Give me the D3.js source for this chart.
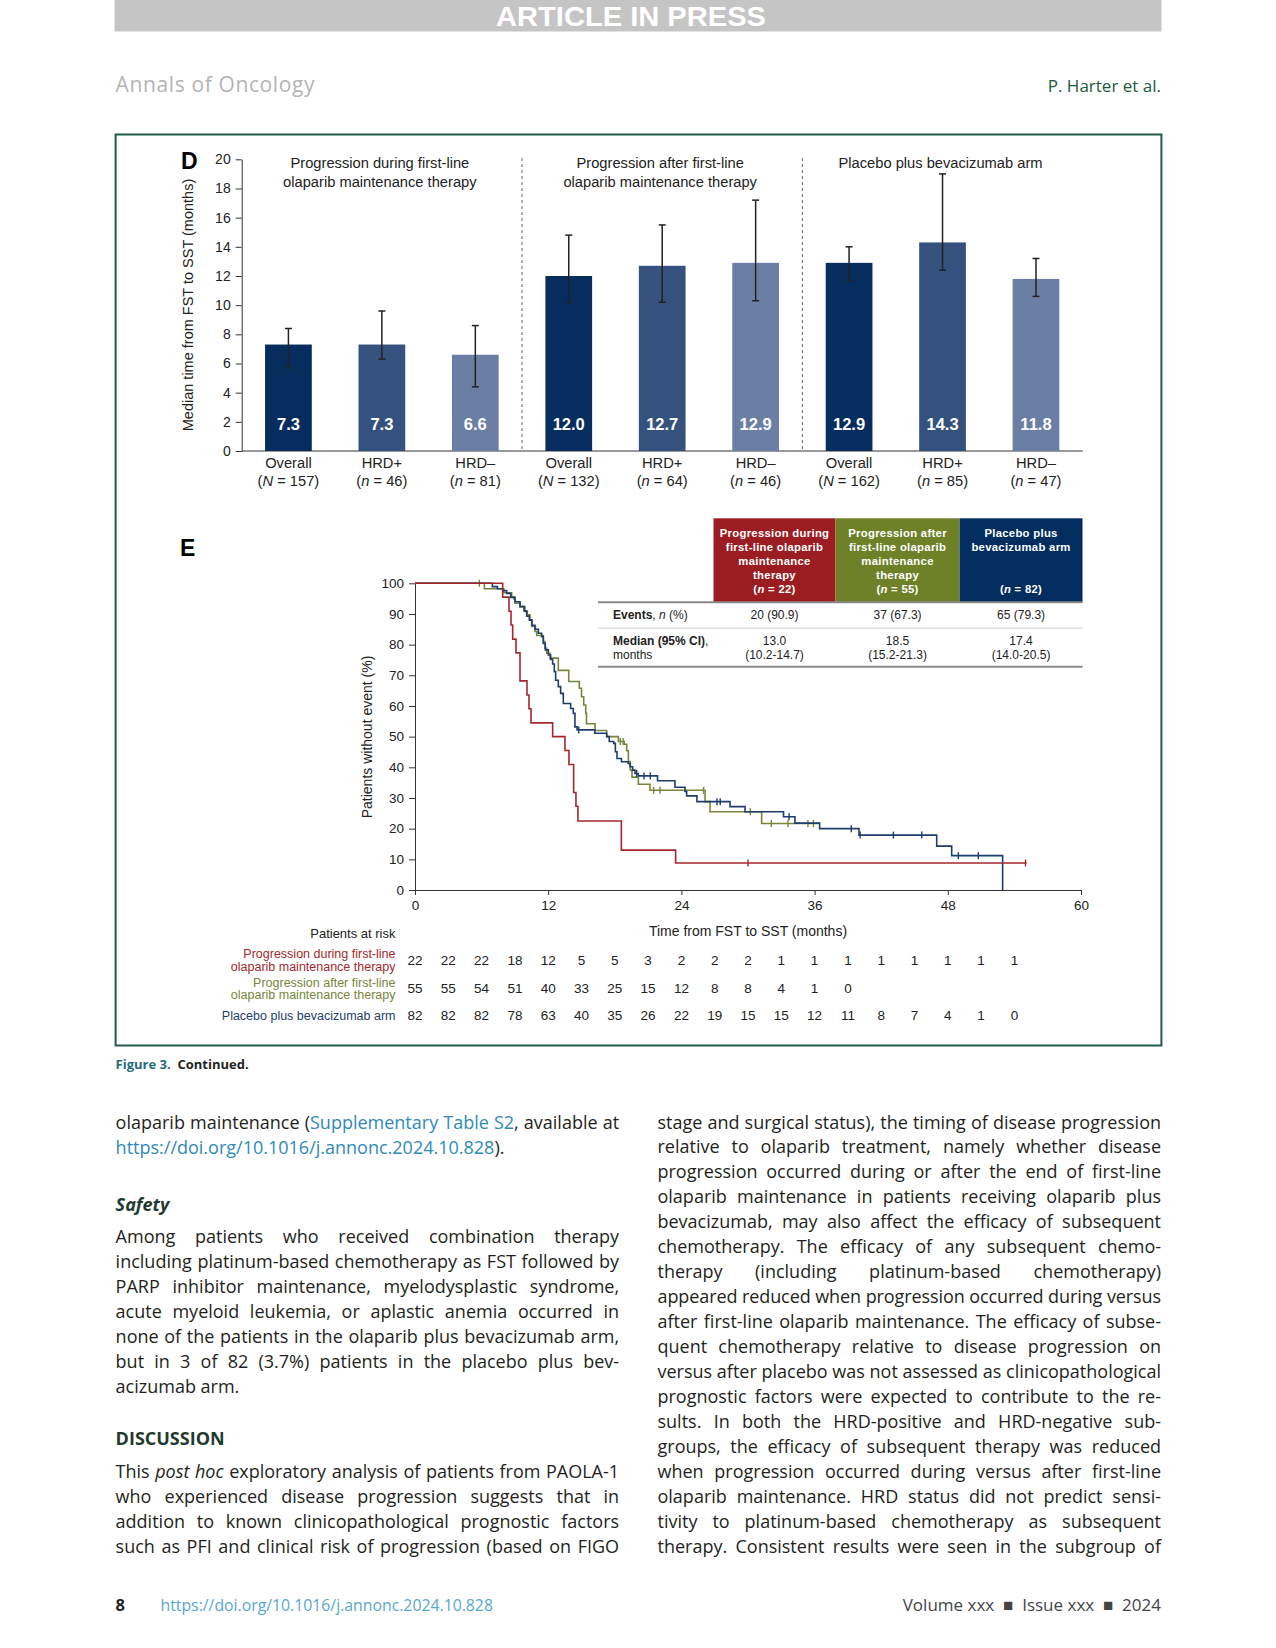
<!DOCTYPE html>
<html>
<head>
  <meta charset="utf-8" />
  <title>Time from FST to SST</title>
  <style>
    body { margin: 0; background: #fff; width: 1276px; height: 1648px; position: relative; overflow: hidden; }
    svg text { font-family: "Liberation Sans", Arial, sans-serif; }
    .ln { position: absolute; font-family: "Open Sans", sans-serif; font-size: 18px; line-height: 22px; color: #231f20; white-space: nowrap; }
    .j { text-align: justify; text-align-last: justify; }
    .lk { color: #2f8ab8; }
  </style>
</head>
<body>
  <svg id="page" width="1276" height="1648" style="position:absolute;left:0;top:0"></svg>
  <div id="txt"></div>

  <script src="https://cdn.jsdelivr.net/npm/d3@7"></script>
  <script>

    // ---- panel D data
    var barGroups = [['Progression during first-line', 'olaparib maintenance therapy'],
                     ['Progression after first-line', 'olaparib maintenance therapy'],
                     ['Placebo plus bevacizumab arm']]
    var barCats = ['Overall', 'HRD+', 'HRD\u2013', 'Overall', 'HRD+', 'HRD\u2013', 'Overall', 'HRD+', 'HRD\u2013']
    var barNLetter = ['N', 'n', 'n', 'N', 'n', 'n', 'N', 'n', 'n']
    var barN = [157, 46, 81, 132, 64, 46, 162, 85, 47]
    var barMedian = [7.3, 7.3, 6.6, 12.0, 12.7, 12.9, 12.9, 14.3, 11.8]
    var barLower = [5.7, 6.3, 4.4, 10.2, 10.2, 10.3, 11.7, 12.4, 10.6]
    var barUpper = [8.4, 9.6, 8.6, 14.8, 15.5, 17.2, 14.0, 19.0, 13.2]
    var barTicks = [0, 2, 4, 6, 8, 10, 12, 14, 16, 18, 20]
    var barColors = ['#062d5e', '#35527e', '#6b7fa4']

    // ---- panel E data (time in months, % without event)
    var kmDuring = [[0, 100], [7.9, 95.5], [8.47, 90.9], [8.65, 86.4], [8.8, 81.8], [9.1, 77.3], [9.46, 68.2],
      [10.09, 63.6], [10.27, 59.1], [10.45, 54.5], [12.4, 50.0], [13.51, 45.5], [13.87, 40.9], [14.29, 31.8],
      [14.5, 27.3], [14.68, 22.5], [18.59, 13.0], [23.48, 8.8], [55.1, 8.8]]
    var kmDuringCens = [30.0, 55.0]

    var kmAfter = [[0, 100], [6.25, 98.2], [8.0, 96.9], [8.71, 95.6], [8.92, 94.8], [9.01, 93.5], [9.46, 92.4],
      [9.91, 90.8], [10.12, 89.7], [10.36, 88.1], [10.51, 85.9], [10.81, 84.3], [10.96, 83.0], [11.56, 81.0],
      [11.71, 78.8], [11.86, 77.2], [12.16, 75.6], [12.91, 71.6], [13.85, 68.0], [14.8, 65.8], [15.0, 63.0],
      [15.2, 60.3], [15.38, 57.6], [15.45, 54.2], [16.22, 52.0], [17.27, 50.0], [18.32, 48.4], [18.85, 47.5],
      [19.07, 45.4], [19.22, 41.9], [19.4, 39.1], [19.55, 36.8], [20.12, 34.5], [21.17, 32.5], [26.13, 28.8],
      [26.58, 25.5], [31.23, 21.7], [36.33, 21.7]]
    var kmAfterCens = [5.8, 18.5, 18.75, 21.5, 22.07, 26.0, 30.2, 32.1, 33.6, 35.4, 35.9]

    var kmPlacebo = [[0, 100], [6.97, 98.9], [7.42, 98.2], [7.9, 97.6], [8.26, 96.7], [8.62, 95.4], [9.01, 94.0],
      [9.46, 92.4], [9.82, 91.0], [10.06, 89.3], [10.3, 88.0], [10.54, 86.3], [10.81, 85.0], [11.11, 83.7],
      [11.41, 82.6], [11.56, 80.4], [11.74, 78.3], [12.01, 76.6], [12.22, 75.2], [12.4, 73.7], [12.55, 71.2],
      [12.67, 68.4], [12.91, 66.3], [13.12, 64.1], [13.36, 60.8], [14.02, 59.2], [14.26, 57.6], [14.41, 53.2],
      [14.6, 52.2], [16.2, 51.1], [17.27, 50.0], [17.5, 48.4], [17.9, 47.8], [18.05, 45.1], [18.2, 42.9],
      [18.6, 41.8], [19.2, 41.3], [19.37, 40.2], [19.61, 39.1], [19.82, 38.0], [20.12, 37.2], [21.85, 35.6],
      [23.42, 33.5], [24.32, 32.1], [24.47, 30.7], [25.4, 28.8], [28.38, 27.2], [29.73, 25.5], [33.2, 23.9],
      [34.23, 21.8], [36.45, 20.0], [40.0, 17.9], [47.0, 14.3], [48.35, 11.2], [52.94, 0]]
    var kmPlaceboCens = [14.75, 19.97, 20.63, 21.2, 27.2, 27.5, 33.7, 39.3, 40.1, 43.1, 45.65, 48.95, 50.75]

    var kmTicksX = [0, 12, 24, 36, 48, 60]
    var kmTicksY = [0, 10, 20, 30, 40, 50, 60, 70, 80, 90, 100]
    var kmColors = ['#a3282d', '#76863a', '#1d3e6c']

    var tblHead = [['Progression during', 'first-line olaparib', 'maintenance', 'therapy', '22'],
                   ['Progression after', 'first-line olaparib', 'maintenance', 'therapy', '55'],
                   ['Placebo plus', 'bevacizumab arm', '', '', '82']]
    var tblHeadColors = ['#9b1d22', '#6e8129', '#022d5f']
    var tblEvents = ['20 (90.9)', '37 (67.3)', '65 (79.3)']
    var tblMedian = ['13.0', '18.5', '17.4']
    var tblCI = ['(10.2-14.7)', '(15.2-21.3)', '(14.0-20.5)']

    var riskLabels = [['Progression during first-line', 'olaparib maintenance therapy'],
                      ['Progression after first-line', 'olaparib maintenance therapy'],
                      ['Placebo plus bevacizumab arm']]
    var riskDuring = [22, 22, 22, 18, 12, 5, 5, 3, 2, 2, 2, 1, 1, 1, 1, 1, 1, 1, 1]
    var riskAfter = [55, 55, 54, 51, 40, 33, 25, 15, 12, 8, 8, 4, 1, 0]
    var riskPlacebo = [82, 82, 82, 78, 63, 40, 35, 26, 22, 19, 15, 15, 12, 11, 8, 7, 4, 1, 0]

    var svg = d3.select('#page')

    // ---- page header
    svg.append('rect').attr('x', 114.5).attr('y', 0).attr('width', 1047).attr('height', 31).attr('fill', '#c5c5c5')
    svg.append('line').attr('x1', 114.5).attr('x2', 1161.5).attr('y1', 31.5).attr('y2', 31.5).attr('stroke', '#e2e2e2')
    svg.append('text').attr('x', 496).attr('y', 26)
      .style('font-family', '"Liberation Sans Narrow", "Liberation Sans", sans-serif')
      .style('font-weight', 'bold').style('font-size', '28px').attr('fill', '#fff')
      .attr('textLength', 270).attr('lengthAdjust', 'spacingAndGlyphs').text('ARTICLE IN PRESS')
    svg.append('text').attr('x', 115.6).attr('y', 92).style('font-family', '"Open Sans", sans-serif')
      .style('font-size', '21px').attr('fill', '#b4b4b4').attr('textLength', 199).text('Annals of Oncology')
    svg.append('text').attr('x', 1161).attr('y', 92).attr('text-anchor', 'end').style('font-family', '"Open Sans", sans-serif')
      .style('font-size', '17px').attr('fill', '#1d5a3c').text('P. Harter et al.')

    // figure frame
    svg.append('rect').attr('x', 115.6).attr('y', 134.5).attr('width', 1045.8).attr('height', 911)
      .attr('fill', 'none').attr('stroke', '#1f5c42').attr('stroke-width', 2)

    drawBars()
    drawKM()
    drawText()

    function drawBars() {
      var g = svg.append('g')
      var x = d3.scaleBand().domain(d3.range(barCats.length)).range([241.7, 1082.7]).paddingInner(0.5).paddingOuter(0.25)
      var y = d3.scaleLinear().domain([0, 20]).range([451, 159.3])

      g.append('text').attr('x', 181).attr('y', 169).style('font-size', '23px').style('font-weight', 'bold').text('D')

      var ya = g.append('g').attr('transform', 'translate(241.7,0)')
        .call(d3.axisLeft(y).tickValues(barTicks).tickSize(6).tickPadding(5).tickSizeOuter(0))
      ya.selectAll('text').style('font-size', '14px').attr('fill', '#222')
      ya.selectAll('line,path').attr('stroke', '#333')

      g.append('line').attr('x1', 241.7).attr('x2', 1082.7).attr('y1', 451).attr('y2', 451).attr('stroke', '#333')

      g.append('text').attr('transform', 'translate(193,305) rotate(-90)').attr('text-anchor', 'middle')
        .style('font-size', '14.5px').attr('fill', '#222').text('Median time from FST to SST (months)')

      // group separators and titles
      ;[3, 6].forEach(function (k) {
        var sx = (x(k - 1) + x.bandwidth() + x(k)) / 2
        g.append('line').attr('x1', sx).attr('x2', sx).attr('y1', 158).attr('y2', 451)
          .attr('stroke', '#666').attr('stroke-dasharray', '3,3')
      })
      barGroups.forEach(function (lines, gi) {
        var cx = x(gi * 3 + 1) + x.bandwidth() / 2 - 2
        lines.forEach(function (t, li) {
          g.append('text').attr('x', cx).attr('y', 168 + li * 18.5).attr('text-anchor', 'middle')
            .style('font-size', '14.7px').attr('fill', '#222').text(t)
        })
      })

      g.selectAll('.bar').data(barMedian).enter().append('rect')
        .attr('x', function (d, i) { return x(i) })
        .attr('y', function (d) { return y(d) })
        .attr('width', x.bandwidth())
        .attr('height', function (d) { return y(0) - y(d) })
        .attr('fill', function (d, i) { return barColors[i % 3] })

      var eb = g.selectAll('.eb').data(barMedian).enter().append('g')
        .attr('transform', function (d, i) { return 'translate(' + (x(i) + x.bandwidth() / 2) + ',0)' })
        .attr('stroke', '#222').attr('stroke-width', 1.5)
      eb.append('line').attr('y1', function (d, i) { return y(barLower[i]) }).attr('y2', function (d, i) { return y(barUpper[i]) })
      eb.append('line').attr('x1', -3.5).attr('x2', 3.5).attr('y1', function (d, i) { return y(barLower[i]) }).attr('y2', function (d, i) { return y(barLower[i]) })
      eb.append('line').attr('x1', -3.5).attr('x2', 3.5).attr('y1', function (d, i) { return y(barUpper[i]) }).attr('y2', function (d, i) { return y(barUpper[i]) })

      g.selectAll('.val').data(barMedian).enter().append('text')
        .attr('x', function (d, i) { return x(i) + x.bandwidth() / 2 }).attr('y', 430)
        .attr('text-anchor', 'middle').style('font-size', '16.5px').style('font-weight', 'bold').attr('fill', '#fff')
        .text(function (d) { return d.toFixed(1) })

      barCats.forEach(function (c, i) {
        var cx = x(i) + x.bandwidth() / 2
        g.append('text').attr('x', cx).attr('y', 468).attr('text-anchor', 'middle').style('font-size', '14.7px').attr('fill', '#222').text(c)
        var t = g.append('text').attr('x', cx).attr('y', 485.5).attr('text-anchor', 'middle').style('font-size', '14.7px').attr('fill', '#222')
        t.append('tspan').text('(')
        t.append('tspan').style('font-style', 'italic').text(barNLetter[i])
        t.append('tspan').text(' = ' + barN[i] + ')')
      })
    }

    function survAt(curve, t) {
      var s = 100
      curve.forEach(function (p) { if (p[0] <= t) s = p[1] })
      return s
    }

    function drawKM() {
      var g = svg.append('g')
      var x = d3.scaleLinear().domain([0, 60]).range([415, 1081])
      var y = d3.scaleLinear().domain([0, 100]).range([890, 583.3])

      g.append('text').attr('x', 180).attr('y', 556).style('font-size', '23px').style('font-weight', 'bold').text('E')

      var xa = g.append('g').attr('transform', 'translate(0,890)')
        .call(d3.axisBottom(x).tickValues(kmTicksX).tickSize(5).tickPadding(5).tickSizeOuter(0))
      xa.selectAll('text').style('font-size', '13.5px').attr('fill', '#222')
      xa.selectAll('line,path').attr('stroke', '#333')
      var ya = g.append('g').attr('transform', 'translate(415,0)')
        .call(d3.axisLeft(y).tickValues(kmTicksY).tickSize(6).tickPadding(5).tickSizeOuter(0))
      ya.selectAll('text').style('font-size', '13.5px').attr('fill', '#222')
      ya.selectAll('line,path').attr('stroke', '#333')

      g.append('text').attr('x', 748).attr('y', 936).attr('text-anchor', 'middle').style('font-size', '14px').attr('fill', '#222')
        .text('Time from FST to SST (months)')
      g.append('text').attr('transform', 'translate(372,737) rotate(-90)').attr('text-anchor', 'middle')
        .style('font-size', '14px').attr('fill', '#222').text('Patients without event (%)')

      var line = d3.line().curve(d3.curveStepAfter).x(function (d) { return x(d[0]) }).y(function (d) { return y(d[1]) })
      var curves = [[kmAfter, kmAfterCens], [kmPlacebo, kmPlaceboCens], [kmDuring, kmDuringCens]]
      var cols = [kmColors[1], kmColors[2], kmColors[0]]
      curves.forEach(function (c, ci) {
        g.append('path').datum(c[0]).attr('d', line).attr('fill', 'none').attr('stroke', cols[ci]).attr('stroke-width', 1.6)
        g.selectAll('.cens' + ci).data(c[1]).enter().append('line')
          .attr('x1', function (d) { return x(d) }).attr('x2', function (d) { return x(d) })
          .attr('y1', function (d) { return y(survAt(c[0], d)) - 3.5 })
          .attr('y2', function (d) { return y(survAt(c[0], d)) + 3.5 })
          .attr('stroke', cols[ci]).attr('stroke-width', 1.4)
      })

      // summary table
      var colX = [713.5, 835.5, 959.6, 1082.5]
      tblHead.forEach(function (h, i) {
        g.append('rect').attr('x', colX[i]).attr('y', 518.3).attr('width', colX[i + 1] - colX[i]).attr('height', 84)
          .attr('fill', tblHeadColors[i])
        var cx = (colX[i] + colX[i + 1]) / 2
        h.slice(0, 4).forEach(function (t, li) {
          g.append('text').attr('x', cx).attr('y', 536.5 + li * 14.1).attr('text-anchor', 'middle')
            .style('font-size', '11.3px').style('font-weight', 'bold').style('letter-spacing', '0.3px').attr('fill', '#fff').text(t)
        })
        var nt = g.append('text').attr('x', cx).attr('y', 536.5 + 4 * 14.1).attr('text-anchor', 'middle')
          .style('font-size', '11.3px').style('font-weight', 'bold').style('letter-spacing', '0.3px').attr('fill', '#fff')
        nt.append('tspan').text('(')
        nt.append('tspan').style('font-style', 'italic').text('n')
        nt.append('tspan').text(' = ' + h[4] + ')')

        g.append('text').attr('x', cx).attr('y', 618.5).attr('text-anchor', 'middle').style('font-size', '12px').attr('fill', '#222').text(tblEvents[i])
        g.append('text').attr('x', cx).attr('y', 644.5).attr('text-anchor', 'middle').style('font-size', '12px').attr('fill', '#222').text(tblMedian[i])
        g.append('text').attr('x', cx).attr('y', 658.5).attr('text-anchor', 'middle').style('font-size', '12px').attr('fill', '#222').text(tblCI[i])
      })
      g.append('line').attr('x1', 598).attr('x2', 1082.5).attr('y1', 602.3).attr('y2', 602.3).attr('stroke', '#888').attr('stroke-width', 2)
      g.append('line').attr('x1', 598).attr('x2', 1082.5).attr('y1', 628.3).attr('y2', 628.3).attr('stroke', '#ddd').attr('stroke-width', 1.5)
      g.append('line').attr('x1', 598).attr('x2', 1082.5).attr('y1', 666.7).attr('y2', 666.7).attr('stroke', '#888').attr('stroke-width', 2)
      var ev = g.append('text').attr('x', 613).attr('y', 618.5).style('font-size', '12px').attr('fill', '#222')
      ev.append('tspan').style('font-weight', 'bold').text('Events')
      ev.append('tspan').text(', ')
      ev.append('tspan').style('font-style', 'italic').text('n')
      ev.append('tspan').text(' (%)')
      g.append('text').attr('x', 613).attr('y', 644.5).style('font-size', '12px').style('font-weight', 'bold').attr('fill', '#222').text('Median (95% CI)')
        .append('tspan').style('font-weight', 'normal').text(',')
      g.append('text').attr('x', 613).attr('y', 658.5).style('font-size', '12px').attr('fill', '#222').text('months')

      // patients at risk
      g.append('text').attr('x', 395.5).attr('y', 937.5).attr('text-anchor', 'end').style('font-size', '13px').attr('fill', '#222').text('Patients at risk')
      var riskRows = [riskDuring, riskAfter, riskPlacebo]
      var riskY = [960, 988.5, 1015.5]
      riskRows.forEach(function (row, ri) {
        var lab = riskLabels[ri]
        lab.forEach(function (t, li) {
          var ly = lab.length === 1 ? riskY[ri] : riskY[ri] - 6.2 + li * 12.4
          g.append('text').attr('x', 395.5).attr('y', ly + 4.3).attr('text-anchor', 'end')
            .style('font-size', '12.5px').attr('fill', kmColors[ri]).text(t)
        })
        g.selectAll('.risk' + ri).data(row).enter().append('text')
          .attr('x', function (d, i) { return x(i * 3) }).attr('y', riskY[ri] + 4.8)
          .attr('text-anchor', 'middle').style('font-size', '13.5px').attr('fill', '#222')
          .text(function (d) { return d })
      })
    }

    function fitLine(div, width) {
      var node = div.node(), ls = 0
      while (node.scrollWidth > width + 0.5 && ls > -1.5) {
        ls -= 0.1
        div.style('letter-spacing', ls.toFixed(2) + 'px')
      }
    }

    function drawText() {
      var leftLines = [
        ['j', 'olaparib maintenance (<span class="lk">Supplementary Table S2</span>, available at'],
        ['', '<span class="lk">https://doi.org/10.1016/j.annonc.2024.10.828</span>).'],
        ['h', '<b><i>Safety</i></b>'],
        ['j', 'Among patients who received combination therapy'],
        ['j', 'including platinum-based chemotherapy as FST followed by'],
        ['j', 'PARP inhibitor maintenance, myelodysplastic syndrome,'],
        ['j', 'acute myeloid leukemia, or aplastic anemia occurred in'],
        ['j', 'none of the patients in the olaparib plus bevacizumab arm,'],
        ['j', 'but in 3 of 82 (3.7%) patients in the placebo plus bev-'],
        ['', 'acizumab arm.'],
        ['h', '<b>DISCUSSION</b>'],
        ['j', 'This <i>post hoc</i> exploratory analysis of patients from PAOLA-1'],
        ['j', 'who experienced disease progression suggests that in'],
        ['j', 'addition to known clinicopathological prognostic factors'],
        ['j', 'such as PFI and clinical risk of progression (based on FIGO']
      ]
      var leftY = [1122.5, 1147.5, 1204.5, 1237, 1262, 1287, 1312, 1337, 1362, 1387, 1439, 1471.5, 1496.5, 1521.5, 1546.5]
      var rightLines = [
        'stage and surgical status), the timing of disease progression',
        'relative to olaparib treatment, namely whether disease',
        'progression occurred during or after the end of first-line',
        'olaparib maintenance in patients receiving olaparib plus',
        'bevacizumab, may also affect the efficacy of subsequent',
        'chemotherapy. The efficacy of any subsequent chemo-',
        'therapy (including platinum-based chemotherapy)',
        'appeared reduced when progression occurred during versus',
        'after first-line olaparib maintenance. The efficacy of subse-',
        'quent chemotherapy relative to disease progression on',
        'versus after placebo was not assessed as clinicopathological',
        'prognostic factors were expected to contribute to the re-',
        'sults. In both the HRD-positive and HRD-negative sub-',
        'groups, the efficacy of subsequent therapy was reduced',
        'when progression occurred during versus after first-line',
        'olaparib maintenance. HRD status did not predict sensi-',
        'tivity to platinum-based chemotherapy as subsequent',
        'therapy. Consistent results were seen in the subgroup of'
      ]
      var colW = 503.5
      var box = d3.select('#txt')
      leftLines.forEach(function (l, i) {
        var d = box.append('div').attr('class', 'ln' + (l[0] === 'j' ? ' j' : ''))
          .style('left', '115.6px').style('width', colW + 'px').style('top', (leftY[i] - 12) + 'px')
          .style('color', l[0] === 'h' ? '#1f3b2e' : null)
          .html(l[1])
        if (l[0] === 'j') fitLine(d, colW)
      })
      rightLines.forEach(function (l, i) {
        var d = box.append('div').attr('class', 'ln j')
          .style('left', '657.5px').style('width', colW + 'px').style('top', (1122.5 + i * 24.98 - 12) + 'px')
          .html(l)
        fitLine(d, colW)
      })

      // caption and footer
      box.append('div').attr('class', 'ln').style('left', '115.6px').style('top', '1053px').style('font-size', '13px')
        .html('<b style="color:#1f6d7c">Figure 3.</b>&nbsp; <b>Continued.</b>')
      box.append('div').attr('class', 'ln').style('left', '115.6px').style('top', '1594px').style('font-size', '16.5px')
        .html('<b>8</b>')
      box.append('div').attr('class', 'ln').style('left', '160.5px').style('top', '1594px').style('font-size', '15.8px').style('color', '#58a8cc')
        .text('https://doi.org/10.1016/j.annonc.2024.10.828')
      box.append('div').attr('class', 'ln').style('left', '811px').style('width', '350px').style('text-align', 'right')
        .style('top', '1594px').style('font-size', '17px').style('color', '#444')
        .html('Volume xxx &nbsp;&#9632;&nbsp; Issue xxx &nbsp;&#9632;&nbsp; 2024')
    }

  </script>
</body>
</html>
